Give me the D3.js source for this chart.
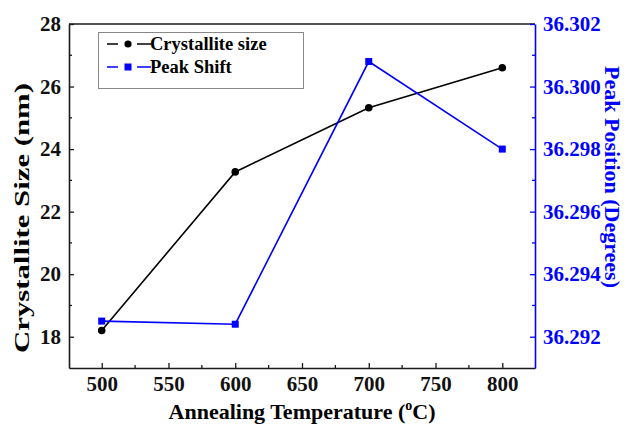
<!DOCTYPE html>
<html>
<head>
<meta charset="utf-8">
<script src="https://cdn.jsdelivr.net/npm/d3@7"></script>
<style>
  html, body { margin: 0; padding: 0; background: #fff; }
  svg { display: block; font-family: "Liberation Serif", "Times New Roman", serif; font-weight: bold; }
</style>
</head>
<body>
<svg id="chart" width="626" height="425"></svg>
<script>
// Annealing temperatures (°C)
const temperatures = [500, 600, 700, 800];
// Crystallite size (nm), left axis
const crystalliteSize = [18.2, 23.27, 25.32, 26.6];
// XRD peak position (degrees), right axis
const peakPosition = [36.2925, 36.2924, 36.3008, 36.298];

const xTicks = [500, 550, 600, 650, 700, 750, 800];
const xMinor = [525, 575, 625, 675, 725, 775];
const leftTicks = [18, 20, 22, 24, 26, 28];
const leftMinor = [19, 21, 23, 25, 27];
const rightTicks = [36.292, 36.294, 36.296, 36.298, 36.300, 36.302];
const rightMinor = [36.293, 36.295, 36.297, 36.299, 36.301];

const BLUE = "#0000ff";
const INK = "#1a1a1a";
const svg = d3.select("#chart");
const m = { left: 69, right: 535, top: 24, bottom: 368 };

const x = d3.scaleLinear().domain([475.5, 824.5]).range([m.left, m.right]);
const yL = d3.scaleLinear().domain([17, 28]).range([m.bottom, m.top]);
const yR = d3.scaleLinear().domain([36.291, 36.302]).range([m.bottom, m.top]);

// top frame line
svg.append("line").attr("x1", m.left).attr("x2", m.right).attr("y1", m.top).attr("y2", m.top)
  .attr("stroke", INK).attr("stroke-width", 1.6);

// bottom axis
const gx = svg.append("g").attr("transform", `translate(0,${m.bottom})`);
gx.call(d3.axisBottom(x).tickValues(xTicks).tickFormat(d3.format("d")).tickSizeInner(-5).tickSizeOuter(0).tickPadding(8));
gx.append("g").selectAll("line").data(xMinor).join("line")
  .attr("x1", d => x(d)).attr("x2", d => x(d)).attr("y1", 0).attr("y2", -3).attr("stroke", INK).attr("stroke-width", 1.3);

// left axis
const gl = svg.append("g").attr("transform", `translate(${m.left},0)`);
gl.call(d3.axisLeft(yL).tickValues(leftTicks).tickFormat(d3.format("d")).tickSizeInner(-5).tickSizeOuter(0).tickPadding(8));
gl.append("g").selectAll("line").data(leftMinor).join("line")
  .attr("y1", d => yL(d)).attr("y2", d => yL(d)).attr("x1", 0).attr("x2", 3).attr("stroke", INK).attr("stroke-width", 1.3);

// right axis
const gr = svg.append("g").attr("transform", `translate(${m.right},0)`);
gr.call(d3.axisRight(yR).tickValues(rightTicks).tickFormat(d3.format(".3f")).tickSizeInner(-5).tickSizeOuter(0).tickPadding(8));
gr.append("g").selectAll("line").data(rightMinor).join("line")
  .attr("y1", d => yR(d)).attr("y2", d => yR(d)).attr("x1", 0).attr("x2", -3).attr("stroke", BLUE).attr("stroke-width", 1.3);

[gx, gl].forEach(g => {
  g.selectAll(".domain").attr("stroke", INK).attr("stroke-width", 1.6);
  g.selectAll(".tick line").attr("stroke", INK).attr("stroke-width", 1.3);
  g.selectAll(".tick text").attr("fill", "#111").style("font-size", "21px").style("font-family", "Liberation Serif").style("font-weight", "bold");
});
gr.selectAll(".domain").attr("stroke", BLUE).attr("stroke-width", 1.6);
gr.selectAll(".tick line").attr("stroke", BLUE).attr("stroke-width", 1.3);
gr.selectAll(".tick text").attr("fill", BLUE).style("font-size", "21px").style("font-family", "Liberation Serif").style("font-weight", "bold");

// series
const sizePts = temperatures.map((t, i) => [x(t), yL(crystalliteSize[i])]);
const peakPts = temperatures.map((t, i) => [x(t), yR(peakPosition[i])]);

svg.append("path").attr("d", d3.line()(sizePts)).attr("fill", "none").attr("stroke", "#000").attr("stroke-width", 1.6);
svg.append("path").attr("d", d3.line()(peakPts)).attr("fill", "none").attr("stroke", BLUE).attr("stroke-width", 1.6);

svg.selectAll(".sq").data(peakPts).join("rect")
  .attr("x", d => d[0] - 3.5).attr("y", d => d[1] - 3.5).attr("width", 7).attr("height", 7).attr("fill", BLUE);
svg.selectAll(".dot").data(sizePts).join("circle")
  .attr("cx", d => d[0]).attr("cy", d => d[1]).attr("r", 3.8).attr("fill", "#000");

// legend
const lg = svg.append("g");
lg.append("rect").attr("x", 98.5).attr("y", 32.5).attr("width", 205).attr("height", 56)
  .attr("fill", "#fff").attr("stroke", "#888").attr("stroke-width", 1);
const entries = [
  { label: "Crystallite size", color: "#000", shape: "circle", y: 44 },
  { label: "Peak Shift", color: BLUE, shape: "square", y: 67 }
];
entries.forEach(e => {
  lg.append("line").attr("x1", 107).attr("x2", 118).attr("y1", e.y).attr("y2", e.y).attr("stroke", e.color).attr("stroke-width", 1.5);
  lg.append("line").attr("x1", 137).attr("x2", 151).attr("y1", e.y).attr("y2", e.y).attr("stroke", e.color).attr("stroke-width", 1.5);
  if (e.shape === "circle") lg.append("circle").attr("cx", 128).attr("cy", e.y).attr("r", 3.6).attr("fill", e.color);
  else lg.append("rect").attr("x", 124.5).attr("y", e.y - 3.5).attr("width", 7).attr("height", 7).attr("fill", e.color);
  lg.append("text").attr("x", 150).attr("y", e.y + 6).attr("fill", "#000").style("font-size", "18.5px").text(e.label);
});

// axis titles
svg.append("text").attr("transform", "translate(29,218) rotate(-90)").attr("text-anchor", "middle")
  .attr("textLength", 270).attr("lengthAdjust", "spacingAndGlyphs")
  .attr("fill", "#000").style("font-size", "22px").text("Crystallite Size (nm)");
svg.append("text").attr("transform", "translate(605,177) rotate(90)").attr("text-anchor", "middle")
  .attr("fill", BLUE).style("font-size", "22px").text("Peak Position (Degrees)");
const xt = svg.append("text").attr("x", 302).attr("y", 419).attr("text-anchor", "middle")
  .attr("fill", "#000").style("font-size", "22px");
xt.append("tspan").text("Annealing Temperature (");
xt.append("tspan").attr("dy", -9).style("font-size", "14px").text("o");
xt.append("tspan").attr("dy", 9).text("C)");
</script>
</body>
</html>
